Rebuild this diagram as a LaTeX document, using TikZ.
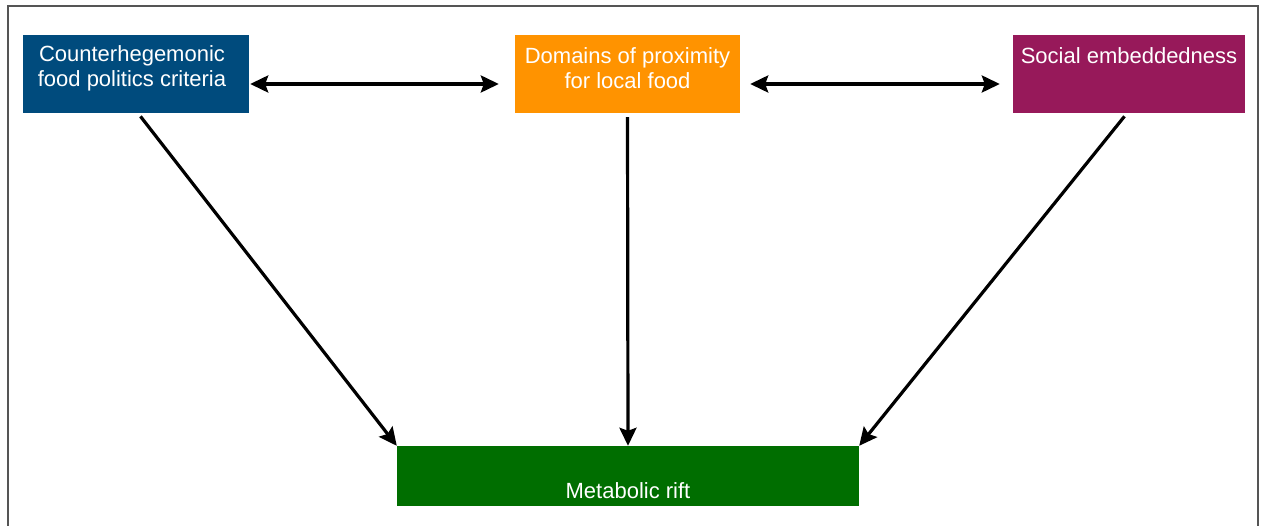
\documentclass[tikz,border=0pt]{standalone}
\usepackage{fontspec}
\setmainfont{Liberation Sans}
\usetikzlibrary{arrows.meta}
\definecolor{cblue}{HTML}{004B7D}
\definecolor{corange}{HTML}{FF9300}
\definecolor{cmaroon}{HTML}{97195A}
\definecolor{cgreen}{HTML}{006E00}
\definecolor{cframe}{HTML}{555555}
\begin{document}
\begin{tikzpicture}[x=1pt,y=1pt,
  box/.style={draw=none, inner sep=0pt, minimum height=78pt},
  txt/.style={text=white, font=\fontsize{22}{25}\selectfont, align=center, inner sep=0pt},
  conn/.style={line width=3.2pt, arrows={-Stealth[length=18pt,width=17pt,inset=3pt]}},
  biconn/.style={line width=3.2pt, arrows={Stealth[length=18pt,width=17pt,inset=3pt]-Stealth[length=18pt,width=17pt,inset=3pt]}}
]
\useasboundingbox (0,0) rectangle (1266,525);
\draw[cframe, line width=2pt] (8,-5) -- (8,519) -- (1258,519) -- (1258,-5);
% boxes (y = 525 - image y)
\node[box, fill=cblue, minimum width=226pt] (b1) at (136,451) {};
\node[box, fill=corange, minimum width=225pt] (b2) at (627.5,451) {};
\node[box, fill=cmaroon, minimum width=232pt] (b3) at (1129,451) {};
\node[box, fill=cgreen, minimum width=462pt, minimum height=60pt] (b4) at (628,49) {};
% texts
\node[txt] (t1) at (132,456.5) {Counterhegemonic\\food politics criteria};
\node[txt] (t2) at (627.5,456.5) {Domains of proximity\\for local food};
\node[txt] (t3) at (1129,469) {Social embeddedness};
\node[txt] (t4) at (628,34) {Metabolic rift};
% connectors
\draw[biconn, shorten <=1pt, shorten >=16pt] (b1.east |- 0,441) coordinate (c1) -- (b2.west |- 0,441) coordinate (c2);
\draw[biconn, shorten <=10pt, shorten >=13pt] (b2.east |- 0,441) coordinate (c3) -- (b3.west |- 0,441) coordinate (c4);
\draw[conn, shorten <=4pt] ([xshift=2pt]b1.south) -- (b4.north west);
\draw[conn, shorten <=4pt] (b2.south) -- (b4.north);
\draw[conn, shorten <=4pt] ([xshift=-2pt]b3.south) -- (b4.north east);
\end{tikzpicture}
\end{document}
